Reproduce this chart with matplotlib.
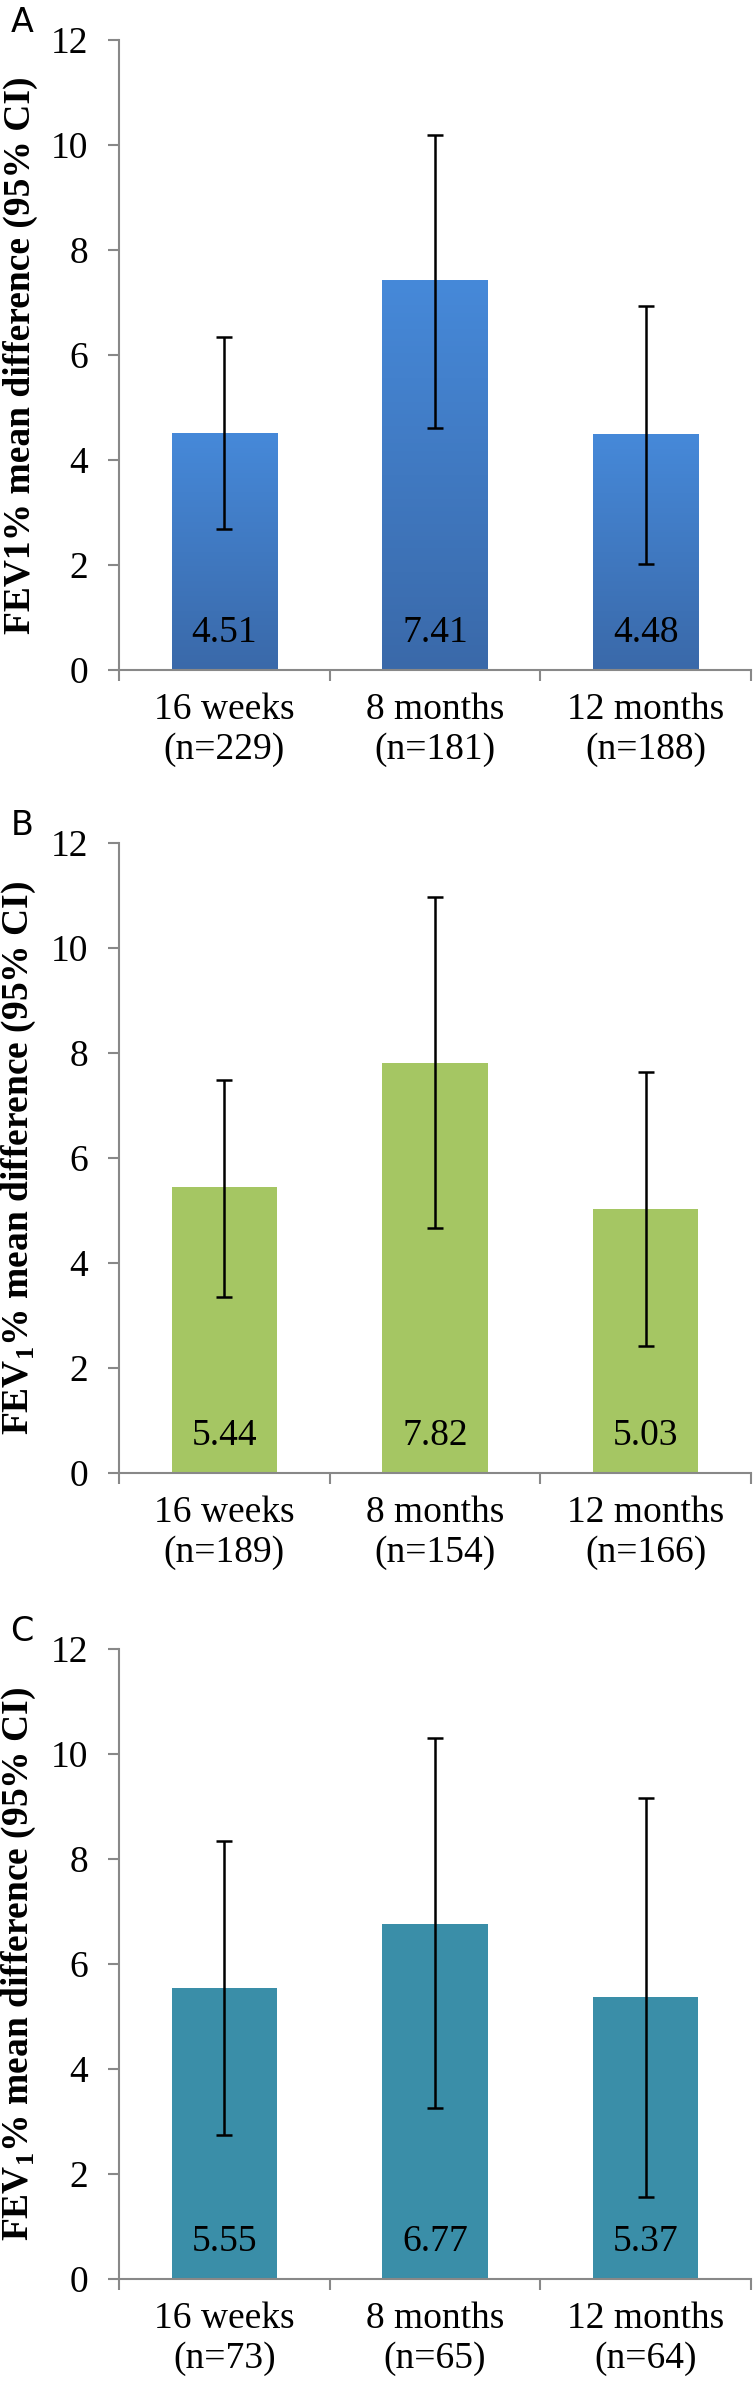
import matplotlib
matplotlib.use("Agg")
import matplotlib.pyplot as plt
import numpy as np
from matplotlib.colors import LinearSegmentedColormap

plt.rcParams['font.family'] = ['Liberation Serif', 'DejaVu Serif']
plt.rcParams['mathtext.fontset'] = 'custom'
plt.rcParams['mathtext.rm'] = 'Liberation Serif'
plt.rcParams['mathtext.bf'] = 'Liberation Serif:bold'

# data
periods = ['16 weeks', '8 months', '12 months']
n_a = [229, 181, 188]
n_b = [189, 154, 166]
n_c = [73, 65, 64]

mean_a = [4.51, 7.41, 4.48]
low_a = [2.69, 4.62, 2.03]
high_a = [6.34, 10.19, 6.94]

mean_b = [5.44, 7.82, 5.03]
low_b = [3.36, 4.66, 2.42]
high_b = [7.49, 10.97, 7.63]

mean_c = [5.55, 6.77, 5.37]
low_c = [2.75, 3.26, 1.56]
high_c = [8.34, 10.30, 9.17]

panels = [
    ('A', 'FEV1% mean difference (95% CI)', n_a, mean_a, low_a, high_a, None, 0.7195),
    ('B', r'FEV$_\mathbf{1}$% mean difference (95% CI)', n_b, mean_b, low_b, high_b, '#A5C663', 0.3834),
    ('C', r'FEV$_\mathbf{1}$% mean difference (95% CI)', n_c, mean_c, low_c, high_c, '#3A8EA8', 0.0460),
]

blue_grad = LinearSegmentedColormap.from_list('bg', ['#3A69A9', '#4689D9'])

fig = plt.figure(figsize=(7.55, 23.89), dpi=100)

for letter, ylab, ns, means, lows, highs, color, bottom in panels:
    ax = fig.add_axes([0.1576, bottom, 0.8371, 0.2637])
    x = np.arange(len(periods))
    means = np.array(means)
    yerr = [means - np.array(lows), np.array(highs) - means]

    bars = ax.bar(x, means, width=0.5, color=color if color else 'none', zorder=2)
    if color is None:
        # vertical gradient like the original
        grad = np.linspace(0, 1, 256).reshape(-1, 1)
        for b in bars:
            ax.imshow(grad, cmap=blue_grad, origin='lower', aspect='auto',
                      extent=[b.get_x(), b.get_x() + b.get_width(), 0, b.get_height()],
                      zorder=2)
    ax.errorbar(x, means, yerr=yerr, fmt='none', ecolor='black', elinewidth=1.8,
                capsize=6, capthick=1.8, zorder=3)

    for xi, m in zip(x, means):
        ax.text(xi, 0.72, f'{m:.2f}', ha='center', va='center', fontsize=27, zorder=4)

    ax.set_xlim(-0.5, 2.5)
    ax.set_ylim(0, 12)
    ax.set_yticks(range(0, 13, 2))
    ax.set_xticks([-0.5, 0.5, 1.5, 2.5])
    ax.set_xticklabels([])
    ax.set_xticks(x, minor=True)
    ax.set_xticklabels([f'{p}\n(n={n})' for p, n in zip(periods, ns)], minor=True,
                       fontsize=27, linespacing=1.2)
    ax.tick_params(axis='x', which='minor', length=0, pad=16)
    ax.tick_params(axis='x', which='major', length=8, width=1.5, color='#888888')
    ax.tick_params(axis='y', length=8, width=1.5, color='#888888', labelsize=27, pad=14)

    for s in ['top', 'right']:
        ax.spines[s].set_visible(False)
    for s in ['left', 'bottom']:
        ax.spines[s].set_color('#888888')
        ax.spines[s].set_linewidth(1.5)

    ax.set_ylabel(ylab, fontsize=27, fontweight='bold')
    ax.yaxis.set_label_coords(-0.128, 0.5)

    fig.text(0.029, bottom + 0.2637 + 0.0075, letter, fontsize=24,
             family='DejaVu Sans', ha='center', va='center')

fig.savefig('out.png', dpi=100)
